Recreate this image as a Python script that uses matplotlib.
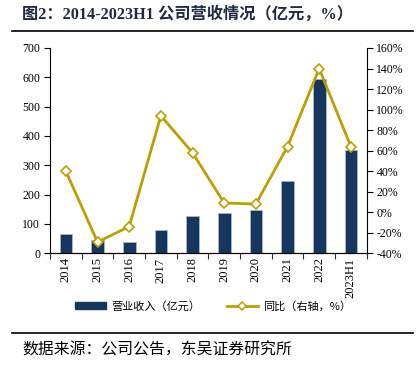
import numpy as np
import matplotlib.pyplot as plt
from matplotlib.lines import Line2D

# --- data ---
years = ['2014', '2015', '2016', '2017', '2018', '2019', '2020', '2021', '2022', '2023H1']
revenue = [66, 45, 39, 80, 128, 139, 149, 248, 594, 351]        # 亿元
yoy = [40, -29, -14, 94, 58, 9, 8, 64, 140, 64]                  # %
left_ticks = [0, 100, 200, 300, 400, 500, 600, 700]
right_ticks = [-40, -20, 0, 20, 40, 60, 80, 100, 120, 140, 160]

bar_color = '#17365D'
line_color = '#BF9E00'
serif = ['Liberation Serif', 'Noto Sans CJK SC']
cjk = ['Noto Sans CJK SC', 'DejaVu Sans']

fig = plt.figure(figsize=(4.2, 3.74), dpi=100)
ax = fig.add_axes([50/420, 1-253.3/374, (366.7-50)/420, (253.3-48)/374])
ax2 = ax.twinx()

x = np.arange(len(years))
ax.bar(x, revenue, width=0.4, color=bar_color, edgecolor='#A9B8CC', linewidth=0.6,
       zorder=2)
ax2.plot(x, yoy, color=line_color, lw=2, marker='D', ms=5.5, mfc='white',
         mec=line_color, mew=1.2, zorder=3)

ax.set_xlim(-0.5, len(years) - 0.5)
ax.set_ylim(0, 700)
ax.set_yticks(left_ticks)
ax2.set_ylim(-40, 160)
ax2.set_yticks(right_ticks)
ax2.set_yticklabels([f'{t}%' for t in right_ticks])

# category boundary ticks on x axis, labels in between
ax.set_xticks(np.arange(-0.5, len(years)), minor=False)
ax.set_xticklabels([])
ax.set_xticks(x, minor=True)
ax.set_xticklabels(years, minor=True, rotation=90, fontsize=9, family=serif)
ax.tick_params(axis='x', which='minor', length=0, pad=3)
ax.tick_params(axis='x', which='major', length=4, direction='out', color='#333333')

for a in (ax, ax2):
    a.spines['top'].set_visible(False)
    a.tick_params(axis='y', length=4, direction='out', labelsize=8.5, pad=3)
    for lab in a.get_yticklabels():
        lab.set_family(serif)
ax2.spines['left'].set_visible(False)
ax.spines['right'].set_visible(False)
ax.spines['bottom'].set_color('#333333')

# legend
handles = [plt.Rectangle((0, 0), 1, 1, color=bar_color),
           Line2D([], [], color=line_color, lw=2, marker='D', ms=4.5, mfc='white',
                  mec=line_color, mew=1.1)]
fig.legend(handles, ['营业收入（亿元）', '同比（右轴，%）'], loc='center',
           bbox_to_anchor=(0.507, 1-306/374), ncol=2, frameon=False,
           prop={'family': cjk, 'size': 8}, handlelength=2.8, handleheight=0.6,
           columnspacing=2.4, handletextpad=0.45)

# title, rules, source
fig.text(22/420, 1-15/374, '图2：2014-2023H1 公司营收情况（亿元，%）', family=serif,
         fontsize=11.7, fontweight='bold', color='#1F2A44', va='center', ha='left')
fig.add_artist(Line2D([12/420, 413/420], [1-31/374, 1-31/374], color='black', lw=1.2))
fig.add_artist(Line2D([12/420, 413/420], [1-333/374, 1-333/374], color='black', lw=1.2))
fig.text(22/420, 1-350/374, '数据来源：公司公告，东吴证券研究所', family=cjk,
         fontsize=11.4, va='center', ha='left', color='black')

fig.savefig('out.png', dpi=100)
